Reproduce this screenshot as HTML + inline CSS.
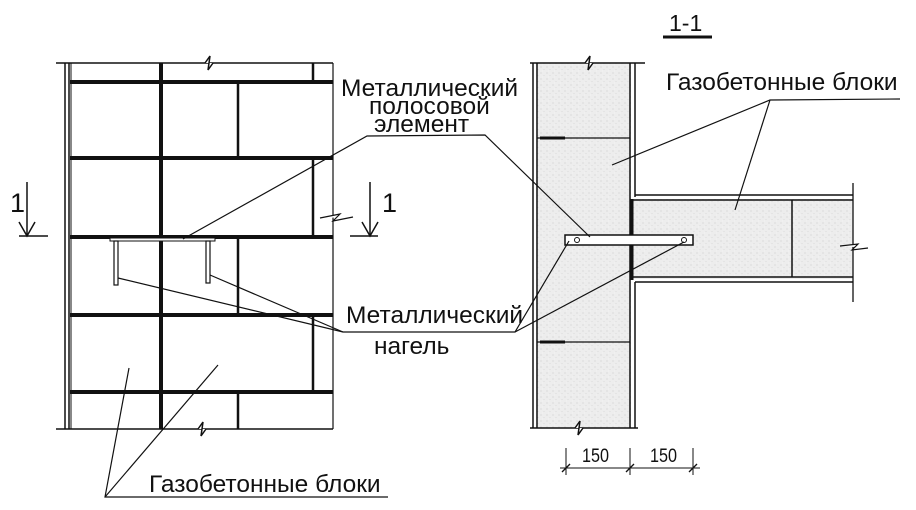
<!DOCTYPE html>
<html><head><meta charset="utf-8"><style>
html,body{margin:0;padding:0;background:#fff;}
svg{display:block}
text{font-family:"Liberation Sans",sans-serif;fill:#111;}
</style></head><body>
<svg width="916" height="510" viewBox="0 0 916 510" xmlns="http://www.w3.org/2000/svg">
<defs>
<pattern id="st" width="6" height="6" patternUnits="userSpaceOnUse">
<rect width="6" height="6" fill="#ededed"/>
<circle cx="1" cy="1" r="0.6" fill="#cfcfcf"/><circle cx="4" cy="3.5" r="0.5" fill="#d6d6d6"/><circle cx="2.5" cy="5" r="0.4" fill="#fafafa"/>
</pattern>
</defs>
<g stroke="#111" fill="none">
<line x1="56" y1="63" x2="333" y2="63" stroke-width="1.5"/>
<line x1="56" y1="429" x2="333" y2="429" stroke-width="1.5"/>
<line x1="65" y1="63" x2="65" y2="429" stroke-width="1.5"/>
<line x1="69" y1="63" x2="69" y2="429" stroke-width="1.5"/>
<line x1="71" y1="63" x2="71" y2="429" stroke-width="1"/>
<line x1="333" y1="63" x2="333" y2="429" stroke-width="1.2"/>
<g stroke-width="4">
<line x1="70" y1="82" x2="333" y2="82"/>
<line x1="70" y1="158" x2="333" y2="158"/>
<line x1="70" y1="237" x2="333" y2="237"/>
<line x1="70" y1="315" x2="333" y2="315"/>
<line x1="70" y1="392" x2="333" y2="392"/>
<line x1="161" y1="63" x2="161" y2="429"/>
</g>
<g stroke-width="2.5">
<line x1="238" y1="82" x2="238" y2="158"/>
<line x1="238" y1="237" x2="238" y2="315"/>
<line x1="238" y1="392" x2="238" y2="429"/>
<line x1="313" y1="63" x2="313" y2="82"/>
<line x1="313" y1="158" x2="313" y2="237"/>
<line x1="313" y1="315" x2="313" y2="392"/>
</g>
<polyline points="205,63 210,56 208,70 213,63" stroke-width="1.5" fill="#fff"/>
<polyline points="198,429 203,422 201,436 206,429" stroke-width="1.5" fill="#fff"/>
<polyline points="320,218 340,214 333,221 353,217" stroke-width="1.2" fill="#fff"/>
<line x1="27" y1="182" x2="27" y2="236" stroke-width="1.5"/>
<polyline points="19,222 27,236 35,222" stroke-width="1.5"/>
<line x1="19" y1="236" x2="48" y2="236" stroke-width="1.5"/>
<line x1="370" y1="182" x2="370" y2="236" stroke-width="1.5"/>
<polyline points="362,222 370,236 378,222" stroke-width="1.5"/>
<line x1="350" y1="236" x2="378" y2="236" stroke-width="1.5"/>
<rect x="110" y="238" width="105" height="3" fill="#fff" stroke-width="1"/>
<rect x="114" y="241" width="4" height="44" fill="#fff" stroke-width="1.2"/>
<rect x="206" y="241" width="4" height="42" fill="#fff" stroke-width="1.2"/>
<rect x="536" y="63" width="95" height="365" fill="url(#st)" stroke="none"/>
<rect x="633" y="199" width="220" height="80" fill="url(#st)" stroke="none"/>
<line x1="533" y1="63" x2="533" y2="428" stroke-width="1.5"/>
<line x1="537" y1="63" x2="537" y2="428" stroke-width="1.5"/>
<line x1="630" y1="63" x2="630" y2="428" stroke-width="1.5"/>
<line x1="635" y1="63" x2="635" y2="197" stroke-width="1.5"/>
<line x1="635" y1="282" x2="635" y2="428" stroke-width="1.5"/>
<line x1="530" y1="63" x2="645" y2="63" stroke-width="1.5"/>
<line x1="530" y1="428" x2="638" y2="428" stroke-width="1.5"/>
<polyline points="585,63 590,56 588,70 593,63" stroke-width="1.5" fill="#fff"/>
<polyline points="575,428 580,421 578,435 583,428" stroke-width="1.5" fill="#fff"/>
<line x1="537" y1="138" x2="630" y2="138" stroke-width="1.2"/>
<line x1="540" y1="138" x2="565" y2="138" stroke-width="3"/>
<line x1="537" y1="342" x2="630" y2="342" stroke-width="1.2"/>
<line x1="540" y1="342" x2="565" y2="342" stroke-width="3"/>
<line x1="632" y1="199" x2="632" y2="280" stroke-width="3"/>
<line x1="635" y1="195" x2="853" y2="195" stroke-width="1.5"/>
<line x1="633" y1="200" x2="853" y2="200" stroke-width="1.5"/>
<line x1="633" y1="277" x2="853" y2="277" stroke-width="1.5"/>
<line x1="635" y1="282" x2="853" y2="282" stroke-width="1.5"/>
<line x1="792" y1="200" x2="792" y2="277" stroke-width="1.5"/>
<line x1="853" y1="183" x2="853" y2="302" stroke-width="1.3"/>
<polyline points="840,246 858,244 852,250 868,248" stroke-width="1.2" fill="#fff"/>
<rect x="565" y="235" width="128" height="10" fill="#fff" stroke-width="1.5"/>
<circle cx="577" cy="240" r="2.5" stroke-width="1"/>
<circle cx="684" cy="240" r="2.5" stroke-width="1"/>
<line x1="560" y1="468" x2="700" y2="468" stroke-width="1"/>
<line x1="566" y1="448" x2="566" y2="475" stroke-width="1"/>
<line x1="630" y1="448" x2="630" y2="475" stroke-width="1"/>
<line x1="693" y1="448" x2="693" y2="475" stroke-width="1"/>
<line x1="562" y1="472" x2="570" y2="464" stroke-width="1.3"/>
<line x1="626" y1="472" x2="634" y2="464" stroke-width="1.3"/>
<line x1="689" y1="472" x2="697" y2="464" stroke-width="1.3"/>
<line x1="663" y1="37" x2="712" y2="37" stroke-width="3"/>
<g stroke-width="1.2">
<polyline points="183,239 367,136 485,135 590,237"/>
<polyline points="118,278 343,332 515,332 569,241"/>
<line x1="210" y1="275" x2="343" y2="332"/>
<line x1="515" y1="332" x2="684" y2="242"/>
<polyline points="129,368 105,497 388,497"/>
<line x1="105" y1="497" x2="218" y2="365"/>
<polyline points="612,165 770,100 900,99"/>
<line x1="770" y1="100" x2="735" y2="210"/>
</g>
</g>
<g font-size="24.5">
<text x="341" y="96">Металлический</text>
<text x="369" y="114">полосовой</text>
<text x="374" y="132">элемент</text>
<text x="346" y="323">Металлический</text>
<text x="374" y="354">нагель</text>
<text x="149" y="492">Газобетонные блоки</text>
<text x="666" y="90">Газобетонные блоки</text>
</g>
<text x="669" y="31" font-size="23">1-1</text>
<text x="10" y="212" font-size="27">1</text>
<text x="382" y="212" font-size="27">1</text>
<text x="582" y="462" font-size="19" textLength="27" lengthAdjust="spacingAndGlyphs">150</text>
<text x="650" y="462" font-size="19" textLength="27" lengthAdjust="spacingAndGlyphs">150</text>
</svg>
</body></html>
